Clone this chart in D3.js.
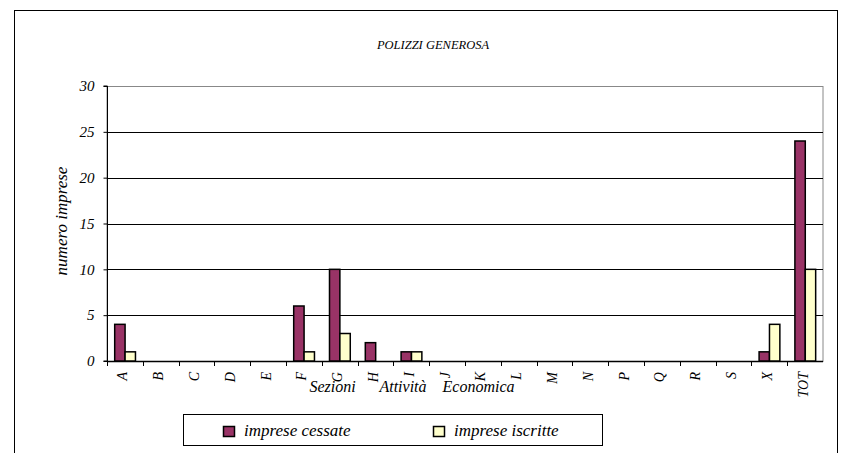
<!DOCTYPE html>
<html><head><meta charset="utf-8">
<script src="https://cdn.jsdelivr.net/npm/d3@7"></script>
</head><body style="margin:0">
<script>
const categories = ["A","B","C","D","E","F","G","H","I","J","K","L","M","N","P","Q","R","S","X","TOT"];
const cessate = [4,0,0,0,0,6,10,2,1,0,0,0,0,0,0,0,0,0,1,24];
const iscritte = [1,0,0,0,0,1,3,0,1,0,0,0,0,0,0,0,0,0,4,10];
const seriesNames = ["imprese cessate","imprese iscritte"];
const yTicks = [0,5,10,15,20,25,30];
const colors = ["#993366","#FFFFCC"];
const FONT = "Liberation Serif";

const W = 843, H = 453;
const svg = d3.select("body").append("svg").attr("width", W).attr("height", H);
function txt(sel, size){
  return sel.attr("font-family",FONT).attr("font-style","italic").attr("font-size",size).attr("fill","#000");
}

const L = 107, R = 823, T = 86, B = 361;
const x = d3.scaleBand().domain(categories).range([L, R]);
const y = d3.scaleLinear().domain([0, 30]).range([B, T]);

// outer chart border
svg.append("rect").attr("x",14.5).attr("y",10.5).attr("width",823).attr("height",460)
  .attr("fill","#fff").attr("stroke","#000").attr("stroke-width",1);

// plot area border
svg.append("rect").attr("x",L).attr("y",T+0.5).attr("width",R-L).attr("height",B-T)
  .attr("fill","none").attr("stroke","#888");

// gridlines
svg.append("g").selectAll("line").data(yTicks.filter(v=>v>0 && v<30)).join("line")
  .attr("x1",L).attr("x2",R).attr("y1",d=>Math.round(y(d))+0.5).attr("y2",d=>Math.round(y(d))+0.5)
  .attr("stroke","#000").attr("stroke-width",1);

// y axis
const yAxis = d3.axisLeft(y).tickValues(yTicks).tickSize(4).tickPadding(9);
const yg = svg.append("g").attr("transform",`translate(${L+0.5},0)`).call(yAxis)
  .attr("font-family",FONT).attr("font-size",15);
yg.select(".domain").attr("stroke","#000").attr("d",`M-4,${T}H0V${B}H-4`);
yg.selectAll(".tick line").attr("stroke","#000");
txt(yg.selectAll("text"),15);

// x axis
const xAxis = d3.axisBottom(x).tickSize(0).tickFormat("");
const xg = svg.append("g").attr("transform",`translate(0,${B+0.5})`).call(xAxis)
  .attr("font-family",FONT);
xg.selectAll(".tick").remove();
xg.select(".domain").attr("stroke","#000").attr("stroke-width",1.5).attr("d",`M${L},0H${R}`);

// title
txt(svg.append("text"),12.5).attr("x",433).attr("y",49).attr("text-anchor","middle").text("POLIZZI GENEROSA");

// bars
const bw = x.bandwidth()*0.29;
const off = x.bandwidth()*0.215;
[cessate, iscritte].forEach((vals, si) => {
  svg.append("g").selectAll("rect").data(categories.map((c,i)=>({c, v: vals[i]})).filter(d=>d.v>0)).join("rect")
    .attr("x", d => x(d.c) + off + si*bw)
    .attr("y", d => y(d.v))
    .attr("width", bw)
    .attr("height", d => B - y(d.v))
    .attr("fill", colors[si]).attr("stroke","#000").attr("stroke-width",1.5);
});

// category boundary ticks and labels
svg.append("g").selectAll("line").data(categories).join("line")
  .attr("x1",d=>Math.round(x(d))+0.5).attr("x2",d=>Math.round(x(d))+0.5)
  .attr("y1",B).attr("y2",B+5).attr("stroke","#000");
txt(svg.append("g").selectAll("text").data(categories).join("text"),14)
  .attr("transform", d => `translate(${x(d)+x.bandwidth()/2+2.5},${B+11}) rotate(-90)`)
  .attr("text-anchor","end").text(d=>d);

// axis titles
txt(svg.append("text"),17).attr("transform",`translate(67,${221}) rotate(-90)`).attr("text-anchor","middle")
  .text("numero imprese");
txt(svg.append("text"),16).attr("x",412).attr("y",392).attr("text-anchor","middle")
  .attr("xml:space","preserve")
  .text("Sezioni      Attività    Economica");

// legend
const lg = svg.append("g");
lg.append("rect").attr("x",183.5).attr("y",414.5).attr("width",419).attr("height",31)
  .attr("fill","#fff").attr("stroke","#000");
const lx = [223, 433];
seriesNames.forEach((n,i)=>{
  lg.append("rect").attr("x",lx[i]+0.5).attr("y",426.5).attr("width",11).attr("height",10)
    .attr("fill",colors[i]).attr("stroke","#000").attr("stroke-width",1.5);
  txt(lg.append("text"),17).attr("x",lx[i]+21).attr("y",436).text(n);
});
// force layout/font resolution
document.fonts.check("italic 16px 'Liberation Serif'");
svg.selectAll("text").each(function(){ this.getComputedTextLength(); });
</script>
</body></html>
